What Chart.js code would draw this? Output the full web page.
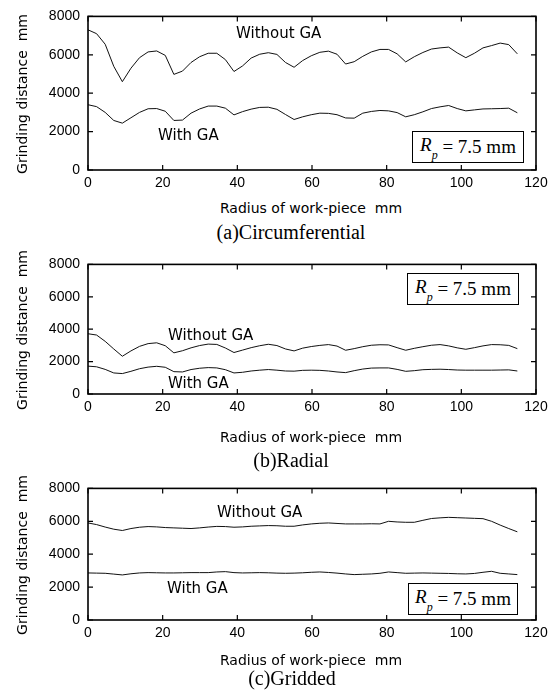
<!DOCTYPE html>
<html lang="en">
<head>
  <meta charset="UTF-8">
  <title>Grinding distance vs radius</title>
  <script src="https://cdn.jsdelivr.net/npm/chart.js"></script>
  <style>
    body { margin: 0; background: #fff; }
    #wrap { position: relative; width: 557px; height: 700px; overflow: hidden; }
    #wrap canvas { position: absolute; left: 0; }
    .t { position: absolute; white-space: nowrap; color: #000; line-height: 1; }
    .sans { font-family: "DejaVu Sans", sans-serif; }
    .ytitle { font-size: 14px; transform: translate(-50%, -50%) rotate(-90deg); }
    .xtitle { font-size: 14px; transform: translate(-50%, -50%); }
    .cap { font-family: "Liberation Serif", "Times New Roman", serif; font-size: 20px; transform: translate(-50%, -50%); }
    .lab { font-size: 15px; transform: translateY(-50%); }
    .rp { position: absolute; border: 1px solid #000; background: #fff; box-sizing: border-box;
          font-family: "Liberation Serif", serif; font-size: 19px; display: flex; align-items: center; justify-content: center; }
    .rp i sub { font-size: 12px; position: relative; top: 3px; }
  </style>
</head>
<body>
  <div id="wrap">
    <canvas id="chartA" width="557" height="195" style="top:0px"></canvas>
    <canvas id="chartB" width="557" height="195" style="top:248px"></canvas>
    <canvas id="chartC" width="557" height="195" style="top:472px"></canvas>

    <!-- (a) -->
    <div class="t sans ytitle" style="left:22px;top:94px">Grinding distance&nbsp;&nbsp;mm</div>
    <div class="t sans xtitle" style="left:311px;top:208px">Radius of work-piece&nbsp;&nbsp;mm</div>
    <div class="t cap" style="left:291px;top:232px">(a)Circumferential</div>
    <div class="t sans lab" style="left:236px;top:33px">Without GA</div>
    <div class="t sans lab" style="left:158px;top:135px">With GA</div>
    <div class="rp" style="left:412px;top:131px;width:112px;height:32px"><i>R<sub>p</sub></i>&nbsp;= 7.5 mm</div>

    <!-- (b) -->
    <div class="t sans ytitle" style="left:22px;top:330px">Grinding distance&nbsp;&nbsp;mm</div>
    <div class="t sans xtitle" style="left:311px;top:437px">Radius of work-piece&nbsp;&nbsp;mm</div>
    <div class="t cap" style="left:291px;top:460px">(b)Radial</div>
    <div class="t sans lab" style="left:168px;top:335px">Without GA</div>
    <div class="t sans lab" style="left:168px;top:383px">With GA</div>
    <div class="rp" style="left:407px;top:273px;width:112px;height:32px"><i>R<sub>p</sub></i>&nbsp;= 7.5 mm</div>

    <!-- (c) -->
    <div class="t sans ytitle" style="left:22px;top:555px">Grinding distance&nbsp;&nbsp;mm</div>
    <div class="t sans xtitle" style="left:311px;top:660px">Radius of work-piece&nbsp;&nbsp;mm</div>
    <div class="t cap" style="left:292px;top:678px">(c)Gridded</div>
    <div class="t sans lab" style="left:217px;top:512px">Without GA</div>
    <div class="t sans lab" style="left:167px;top:588px">With GA</div>
    <div class="rp" style="left:408px;top:583px;width:110px;height:32px"><i>R<sub>p</sub></i>&nbsp;= 7.5 mm</div>
  </div>

  <script>
    // radius of work-piece (mm), shared by all curves
    const radius = [0, 2.3, 4.6, 6.9, 9.2, 11.5, 13.8, 16.1, 18.4, 20.7, 23.0, 25.3, 27.6, 29.9, 32.2, 34.5, 36.8,
      39.1, 41.4, 43.7, 46.0, 48.3, 50.6, 52.9, 55.2, 57.5, 59.8, 62.1, 64.4, 66.7, 69.0, 71.3, 73.6, 75.9, 78.2,
      80.5, 82.8, 85.1, 87.4, 89.7, 92.0, 94.3, 96.6, 98.9, 101.2, 103.5, 105.8, 108.1, 110.4, 112.7, 115];

    // (a) circumferential
    const circWithout = [7300, 7100, 6550, 5400, 4600, 5300, 5850, 6150, 6200, 5970, 4980, 5150, 5600, 5900, 6080, 6080, 5750,
      5130, 5420, 5830, 6030, 6110, 6020, 5600, 5350, 5700, 5950, 6130, 6190, 6030, 5520, 5640, 5920, 6150, 6280,
      6280, 6050, 5630, 5900, 6120, 6300, 6360, 6400, 6100, 5850, 6080, 6360, 6480, 6610, 6530, 6050];
    const circWith = [3400, 3300, 3000, 2580, 2440, 2720, 3000, 3190, 3200, 3060, 2580, 2600, 2960, 3180, 3330, 3330, 3220,
      2870, 3040, 3170, 3260, 3270, 3160, 2890, 2630, 2770, 2880, 2960, 2950, 2880, 2710, 2700, 2960, 3050, 3100,
      3080, 2990, 2770, 2880, 3030, 3200, 3290, 3360, 3200, 3080, 3130, 3180, 3190, 3200, 3220, 2980];

    // (b) radial
    const radWithout = [3720, 3640, 3250, 2780, 2330, 2660, 2940, 3110, 3160, 2980, 2540, 2670, 2850, 2990, 3080, 3060, 2840,
      2560, 2710, 2860, 2980, 3070, 2990, 2780, 2660, 2830, 2930, 3000, 3050, 2960, 2700, 2800, 2920, 3010, 3040,
      3030, 2860, 2700, 2820, 2920, 3010, 3050, 2970, 2850, 2760, 2860, 2970, 3050, 3040, 3000, 2800];
    const radWith = [1720, 1680, 1520, 1300, 1260, 1400, 1560, 1660, 1710, 1650, 1380, 1360, 1510, 1590, 1630, 1610, 1500,
      1300, 1340, 1420, 1470, 1510, 1470, 1420, 1410, 1460, 1470, 1460, 1420, 1360, 1320, 1440, 1540, 1600, 1610,
      1610, 1520, 1400, 1440, 1500, 1520, 1530, 1510, 1480, 1470, 1470, 1470, 1470, 1480, 1490, 1420];

    // (c) gridded
    const gridWithout = [5900, 5800, 5650, 5520, 5440, 5560, 5640, 5680, 5660, 5620, 5600, 5580, 5560, 5600, 5650, 5690, 5680,
      5640, 5660, 5700, 5720, 5740, 5730, 5700, 5700, 5780, 5840, 5880, 5900, 5870, 5840, 5840, 5840, 5850, 5840,
      6000, 5960, 5940, 5940, 6060, 6170, 6210, 6240, 6220, 6200, 6180, 6160, 6000, 5770, 5560, 5360];
    const gridWith = [2860, 2850, 2840, 2790, 2740, 2810, 2860, 2880, 2870, 2860, 2860, 2870, 2880, 2880, 2880, 2920, 2940,
      2880, 2860, 2870, 2880, 2870, 2850, 2840, 2850, 2870, 2900, 2920, 2890, 2850, 2800, 2760, 2780, 2800, 2840,
      2920, 2880, 2840, 2850, 2860, 2850, 2840, 2830, 2810, 2800, 2830, 2900, 2960, 2840, 2800, 2760];

    const xTicks = [0, 20, 40, 60, 80, 100, 120];
    const yTicks = [0, 2000, 4000, 6000, 8000];

    // box round the plot area with short inward ticks on all four sides
    const framePlugin = {
      id: 'frame',
      afterDraw(chart) {
        const { ctx, chartArea: a, scales } = chart;
        const len = 5;
        ctx.save();
        ctx.strokeStyle = '#000';
        ctx.lineWidth = 1.2;
        xTicks.forEach(v => {
          const px = scales.x.getPixelForValue(v);
          ctx.beginPath();
          ctx.moveTo(px, a.bottom); ctx.lineTo(px, a.bottom - len);
          ctx.moveTo(px, a.top); ctx.lineTo(px, a.top + len);
          ctx.stroke();
        });
        yTicks.forEach(v => {
          const py = scales.y.getPixelForValue(v);
          ctx.beginPath();
          ctx.moveTo(a.left, py); ctx.lineTo(a.left + len, py);
          ctx.moveTo(a.right, py); ctx.lineTo(a.right - len, py);
          ctx.stroke();
        });
        ctx.lineWidth = 1.6;
        ctx.strokeRect(a.left, a.top, a.right - a.left, a.bottom - a.top);
        ctx.restore();
      }
    };

    function makeChart(id, plotH, without, withGA) {
      const H = 195;
      const line = vals => ({
        data: radius.map((r, i) => ({ x: r, y: vals[i] })),
        borderColor: '#111',
        borderWidth: 1,
        pointRadius: 0,
        tension: 0,
        fill: false
      });
      const tickFont = { family: 'Liberation Sans', size: 14 };
      new Chart(document.getElementById(id), {
        type: 'line',
        data: { datasets: [line(without), line(withGA)] },
        options: {
          responsive: false,
          animation: false,
          layout: { padding: { top: 15, right: 21, left: 0, bottom: 0 } },
          plugins: { legend: { display: false }, tooltip: { enabled: false } },
          scales: {
            x: {
              type: 'linear', min: 0, max: 120,
              ticks: { stepSize: 20, padding: 5, color: '#000', font: tickFont, maxRotation: 0, callback: v => String(v) },
              grid: { display: false, drawTicks: false },
              border: { display: false },
              afterFit: s => { s.height = H - 15 - plotH; }
            },
            y: {
              min: 0, max: 8000,
              ticks: { stepSize: 2000, padding: 8, color: '#000', font: tickFont, callback: v => String(v) },
              grid: { display: false, drawTicks: false },
              border: { display: false },
              afterFit: s => { s.width = 88; }
            }
          }
        },
        plugins: [framePlugin]
      });
    }

    makeChart('chartA', 155, circWithout, circWith);
    makeChart('chartB', 131, radWithout, radWith);
    makeChart('chartC', 133, gridWithout, gridWith);
  </script>
</body>
</html>
